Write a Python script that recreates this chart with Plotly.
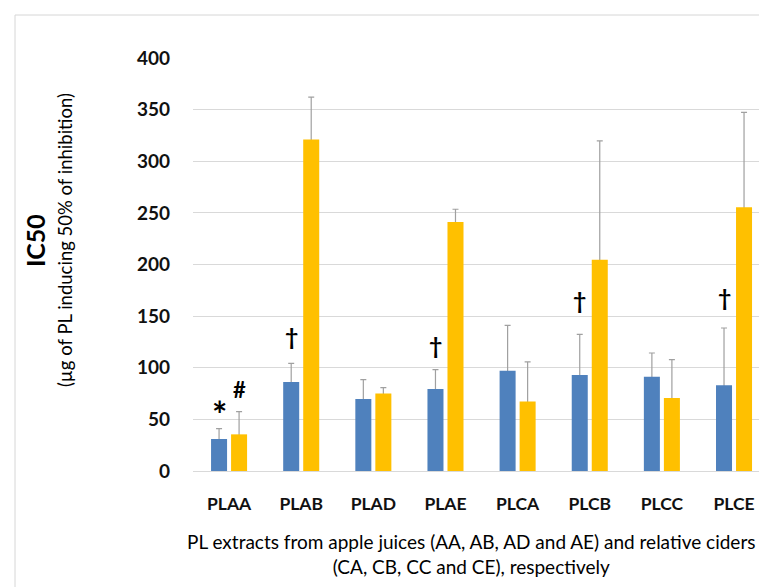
import plotly.graph_objects as go

categories = ["PLAA", "PLAB", "PLAD", "PLAE", "PLCA", "PLCB", "PLCC", "PLCE"]
juice_ic50 = [31.0, 86.2, 69.7, 79.4, 97.2, 93.0, 91.4, 83.0]
juice_sd = [10.1, 18.1, 18.8, 18.8, 43.9, 39.4, 22.9, 55.5]
cider_ic50 = [35.5, 321.0, 75.0, 241.2, 67.2, 204.7, 70.7, 255.4]
cider_sd = [22.0, 41.2, 5.8, 12.3, 38.4, 115.1, 37.2, 92.0]
y_ticks = [0, 50, 100, 150, 200, 250, 300, 350, 400]

# significance marks: (category, series, y position, symbol, size)
marks = [
    ("PLAA", "juice", 55, "*", 36),
    ("PLAA", "cider", 79, "#", 22),
    ("PLAB", "juice", 131, "†", 23),
    ("PLAE", "juice", 122, "†", 23),
    ("PLCB", "juice", 166, "†", 23),
    ("PLCE", "juice", 169, "†", 23),
]

BLUE = "#4F81BD"
GOLD = "#FFC000"
ERR = "#A0A0A0"
FONT = "Lato"

fig = go.Figure()
# invisible carriers for the error bars (drawn beneath the visible bars)
for vals, sd, grp in [(juice_ic50, juice_sd, "a"), (cider_ic50, cider_sd, "b")]:
    fig.add_trace(go.Bar(
        x=categories, y=vals, offsetgroup=grp,
        marker=dict(color="rgba(0,0,0,0)", line=dict(width=0)),
        error_y=dict(type="data", array=sd, visible=True, color=ERR,
                     thickness=1.2, width=3),
        showlegend=False, hoverinfo="skip",
    ))
fig.add_trace(go.Bar(x=categories, y=juice_ic50, offsetgroup="a", name="Juice",
                     marker=dict(color=BLUE, line=dict(width=0)), showlegend=False))
fig.add_trace(go.Bar(x=categories, y=cider_ic50, offsetgroup="b", name="Cider",
                     marker=dict(color=GOLD, line=dict(width=0)), showlegend=False))

annotations = []
for cat, ser, yv, sym, sz in marks:
    annotations.append(dict(
        x=cat, y=yv, xref="x", yref="y", text=sym, showarrow=False,
        xshift=-10 if ser == "juice" else 10, yanchor="middle",
        font=dict(family=FONT, size=sz, color="#000000", weight="bold"),
    ))

annotations += [
    dict(x=-0.2715, y=0.559, xref="paper", yref="paper", text="IC50", textangle=-90,
         showarrow=False, xanchor="center", yanchor="middle",
         font=dict(family=FONT, size=25, color="#000000", weight="bold")),
    dict(x=-0.22, y=0.559, xref="paper", yref="paper",
         text="(µg of PL inducing 50% of inhibition)", textangle=-90,
         showarrow=False, xanchor="center", yanchor="middle",
         font=dict(family=FONT, size=18.5, color="#000000")),
    dict(x=0.478, y=-0.2002, xref="paper", yref="paper",
         text="PL extracts from apple juices (AA, AB, AD and AE) and relative ciders<br>(CA, CB, CC and CE), respectively",
         showarrow=False, xanchor="center", yanchor="middle", align="center",
         font=dict(family=FONT, size=19, color="#000000")),
]

# thin light frame around the whole picture
L, T, PH = 185, 50, 413
W, H = 767, 587
B = H - T - PH
PW = W - L
shapes = [dict(type="rect", xref="paper", yref="paper",
               x0=(7 - L) / PW, x1=1.2, y0=-0.6, y1=(T + PH - 7) / PH,
               line=dict(color="#D6D6D6", width=1), fillcolor="rgba(0,0,0,0)",
               layer="below")]

fig.update_layout(
    width=W, height=H,
    margin=dict(l=L, r=0, t=T, b=B, pad=0),
    paper_bgcolor="white", plot_bgcolor="white",
    barmode="group", bargap=0.445, bargroupgap=0.2,
    annotations=annotations, shapes=shapes,
    font=dict(family=FONT, color="#000000"),
)
fig.update_xaxes(
    range=[-0.5, 7.568], showgrid=False, zeroline=False, showline=False,
    ticks="", ticklabelstandoff=20,
    tickfont=dict(family=FONT, size=17.5, color="#111111", weight="bold"),
)
fig.update_yaxes(
    range=[0, 400], tickvals=y_ticks, showgrid=True, gridcolor="#D9D9D9",
    gridwidth=1, zeroline=True, zerolinecolor="#D9D9D9", zerolinewidth=1,
    showline=False, ticks="", ticklabelstandoff=22,
    tickfont=dict(family=FONT, size=19, color="#111111", weight="bold"),
)

fig.write_html("out.html")
